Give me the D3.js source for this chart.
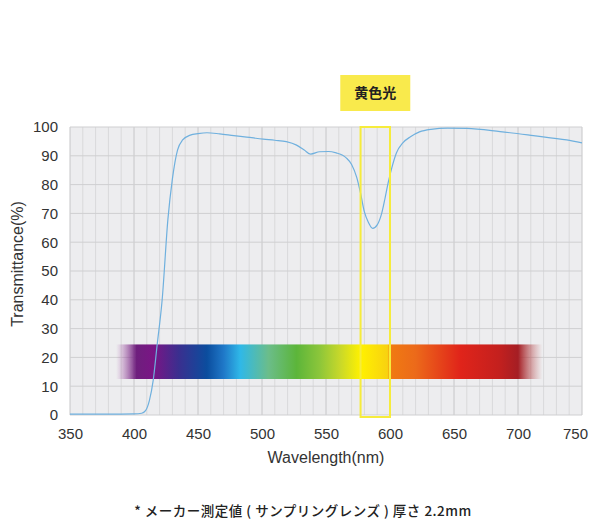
<!DOCTYPE html>
<html>
<head>
<meta charset="utf-8">
<script src="https://cdn.jsdelivr.net/npm/d3@7"></script>
<style>
  body { margin: 0; background: #fff; }
  svg { display: block; }
  .tick text { font-family: "Liberation Sans", Arial, sans-serif; font-size: 15px; fill: #333; }
</style>
</head>
<body>
<div id="chart"></div>
<script>
var width = 591;
var height = 522;
var margin = { top: 127, right: 9, bottom: 107, left: 70 };

// measured curve (nm, %)
var wavelengths = [350, 380, 400, 406, 409, 412, 415, 418, 422, 426.5, 430, 434, 438, 444, 450, 457,
  467, 478, 488, 501, 510, 519, 527, 533, 538, 545, 552, 558, 563, 566, 570, 574, 577, 580, 583,
  586.5, 590, 593.5, 596, 598.5, 601.5, 605, 610, 616, 623, 632, 645, 660, 686, 712, 738, 750];
var transmittance = [0.3, 0.3, 0.4, 0.6, 1.5, 5, 12, 24, 40, 68, 82, 92, 95.5, 97.2, 97.7, 98,
  97.6, 97, 96.5, 95.8, 95.4, 94.9, 93.7, 92, 90.6, 91.4, 91.5, 91, 90.2, 89.2, 87, 82.5, 77, 70.5, 67,
  64.8, 66, 70, 75, 80.5, 86, 91, 94.5, 96.6, 98.3, 99.2, 99.6, 99.5, 98.4, 97, 95.5, 94.5];

var xTicks = [350, 400, 450, 500, 550, 600, 650, 700, 750];
var yTicks = [0, 10, 20, 30, 40, 50, 60, 70, 80, 90, 100];

// yellow light band and spectrum strip
var bandRange = [577, 600];
var bandLabel = '黄色光';
var stripRange = [12.5, 24.5];
var stripWavelengths = [386, 402, 415, 435, 457, 470, 483, 505, 527, 545, 561, 577, 598, 600.5, 620, 655, 685, 700, 719];
var stripColors = ['#b060b0', '#6e1f7d', '#7a1585', '#3a2f8f', '#0b4d9e', '#1f78c8', '#2fb8e8', '#6bbd8a', '#5cb53a',
  '#8cc63a', '#c8d82a', '#fff100', '#f8d210', '#f07a12', '#ec6a1a', '#e0241a', '#c4201e', '#a51e24', '#c06060'];
var stripOpacity = [0, 1, 1, 1, 1, 1, 1, 1, 1, 1, 1, 1, 1, 1, 1, 1, 1, 1, 0];

var xLabel = 'Wavelength(nm)';
var yLabel = 'Transmittance(%)';
var footnote = '* メーカー測定値 ( サンプリングレンズ ) 厚さ 2.2mm';

var innerW = width - margin.left - margin.right;
var innerH = height - margin.top - margin.bottom;

var svg = d3.select('#chart').append('svg')
  .attr('width', width)
  .attr('height', height);

var x = d3.scaleLinear().domain([350, 750]).range([0, innerW]);
var y = d3.scaleLinear().domain([0, 100]).range([innerH, 0]);

var chart = svg.append('g')
  .attr('transform', 'translate(' + margin.left + ',' + margin.top + ')');

chart.append('rect')
  .attr('width', innerW)
  .attr('height', innerH)
  .attr('fill', '#ededef');

// minor and major grid
chart.append('g')
  .selectAll('line')
  .data(d3.range(350, 751, 10))
  .enter()
  .append('line')
    .attr('x1', function (d) { return x(d); })
    .attr('x2', function (d) { return x(d); })
    .attr('y1', 0)
    .attr('y2', innerH)
    .attr('stroke', function (d) { return d % 50 === 0 ? '#c6c6c8' : '#d9d9db'; })
    .attr('stroke-width', 1);

chart.append('g')
  .selectAll('line')
  .data(yTicks)
  .enter()
  .append('line')
    .attr('x1', 0)
    .attr('x2', innerW)
    .attr('y1', function (d) { return y(d); })
    .attr('y2', function (d) { return y(d); })
    .attr('stroke', '#cfcfd1')
    .attr('stroke-width', 1);

// spectrum strip
var grad = svg.append('defs').append('linearGradient')
  .attr('id', 'spectrum')
  .attr('gradientUnits', 'userSpaceOnUse')
  .attr('x1', x(stripWavelengths[0]))
  .attr('x2', x(stripWavelengths[stripWavelengths.length - 1]))
  .attr('y1', 0)
  .attr('y2', 0);

var w0 = stripWavelengths[0];
var w1 = stripWavelengths[stripWavelengths.length - 1];
stripWavelengths.forEach(function (w, i) {
  grad.append('stop')
    .attr('offset', ((w - w0) / (w1 - w0) * 100) + '%')
    .attr('stop-color', stripColors[i])
    .attr('stop-opacity', stripOpacity[i]);
});

chart.append('rect')
  .attr('x', x(w0))
  .attr('width', x(w1) - x(w0))
  .attr('y', y(stripRange[1]))
  .attr('height', y(stripRange[0]) - y(stripRange[1]))
  .attr('fill', 'url(#spectrum)');

// curve
var line = d3.line()
  .x(function (d, i) { return x(wavelengths[i]); })
  .y(function (d) { return y(d); })
  .curve(d3.curveMonotoneX);

chart.append('path')
  .datum(transmittance)
  .attr('fill', 'none')
  .attr('stroke', '#6fb0de')
  .attr('stroke-width', 1.2)
  .attr('d', line);

// yellow band
chart.append('rect')
  .attr('x', x(bandRange[0]))
  .attr('width', x(bandRange[1]) - x(bandRange[0]))
  .attr('y', y(100))
  .attr('height', innerH + 2)
  .attr('fill', 'none')
  .attr('stroke', '#f6ec3c')
  .attr('stroke-width', 2);

var bandMid = (x(bandRange[0]) + x(bandRange[1])) / 2;
chart.append('rect')
  .attr('x', bandMid - 35)
  .attr('y', -52)
  .attr('width', 70)
  .attr('height', 36)
  .attr('fill', '#f9ea4c');

chart.append('text')
  .attr('x', bandMid)
  .attr('y', -34)
  .attr('dy', '0.35em')
  .attr('text-anchor', 'middle')
  .attr('font-family', '"Noto Sans CJK JP", sans-serif')
  .attr('font-weight', 'bold')
  .attr('font-size', 14)
  .attr('fill', '#222')
  .text(bandLabel);

// axes
var xAxis = chart.append('g')
  .attr('transform', 'translate(0,' + innerH + ')')
  .call(d3.axisBottom(x).tickValues(xTicks).tickSize(0).tickPadding(13));

// last label sits inside the right edge
xAxis.selectAll('.tick text')
  .attr('dx', function (d) { return d === 750 ? -7 : 0; });

var yAxis = chart.append('g')
  .call(d3.axisLeft(y).tickValues(yTicks).tickSize(0).tickPadding(12));

xAxis.select('.domain').remove();
yAxis.select('.domain').remove();

svg.append('text')
  .attr('x', margin.left + innerW / 2)
  .attr('y', 463)
  .attr('text-anchor', 'middle')
  .attr('font-family', '"Liberation Sans", Arial, sans-serif')
  .attr('font-size', 16)
  .attr('fill', '#333')
  .text(xLabel);

svg.append('text')
  .attr('transform', 'translate(23,264) rotate(-90)')
  .attr('text-anchor', 'middle')
  .attr('font-family', '"Liberation Sans", Arial, sans-serif')
  .attr('font-size', 16)
  .attr('fill', '#333')
  .text(yLabel);

svg.append('text')
  .attr('x', 303)
  .attr('y', 511)
  .attr('dy', '0.35em')
  .attr('text-anchor', 'middle')
  .attr('font-family', '"Noto Sans CJK JP", sans-serif')
  .attr('font-weight', 500)
  .attr('font-size', 13.5)
  .attr('letter-spacing', 0.5)
  .attr('fill', '#222')
  .text(footnote);
</script>
</body>
</html>
